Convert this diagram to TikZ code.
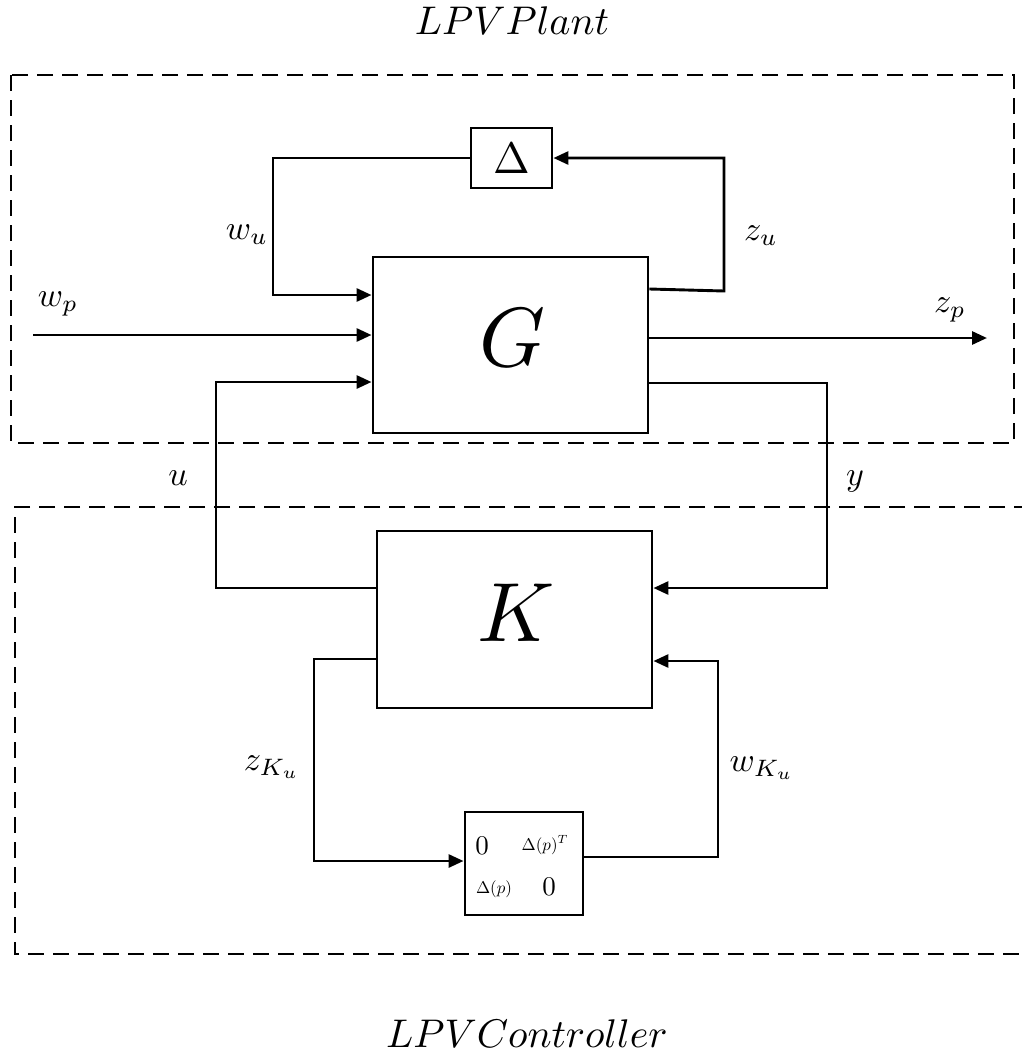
\documentclass[tikz,border=0pt]{standalone}
\usetikzlibrary{arrows.meta,calc}
\begin{document}
\begin{tikzpicture}[x=1pt,y=-1pt,
  blk/.style={draw,line width=2.9pt,inner sep=0pt},
  con/.style={line width=2.9pt},
  arr/.style={con,-{Triangle[length=15pt,width=13pt]}},
  dbox/.style={line width=2.9pt,dash pattern=on 16pt off 9pt},
  lbl/.style={scale=3.4,inner sep=0pt},
  ttl/.style={scale=4.0,inner sep=0pt},
  big/.style={scale=8.4,inner sep=0pt}]
\useasboundingbox (0,0) rectangle (1022,1061);
% dashed enclosures
\draw[dbox] (11,75) rectangle (1014,443);
\draw[dbox] (1030,507) -- (15,507) -- (15,954) -- (1030,954);
% blocks
\node[blk,minimum width=275pt,minimum height=176pt] (G) at (510.5,345) {};
\node[big] (Gl) at (513,338) {$G$};
\node[blk,minimum width=81pt,minimum height=60pt] (D) at (511.5,158) {};
\node[scale=4.4,inner sep=0pt] (Dl) at (D.center) {$\Delta$};
\node[blk,minimum width=275pt,minimum height=177pt] (K) at (514.5,619.5) {};
\node[big] (Kl) at (516,613) {$K$};
\node[blk,minimum width=118pt,minimum height=103pt] (M) at (524,863.5) {};
\node[scale=2.7,inner sep=0pt] (m11) at (482,846) {$0$};
\node[scale=1.7,inner sep=0pt] (m12) at (545,845) {$\Delta(p)^T$};
\node[scale=1.7,inner sep=0pt] (m21) at (494,889) {$\Delta(p)$};
\node[scale=2.7,inner sep=0pt] (m22) at (549,887) {$0$};
% free ends
\coordinate (wpin) at (33,335);
\coordinate (zpout) at (987,338);
% connectors
\draw[arr] (D.west) -- (273,158) -- (273,295) -- (G.west |- 0,295);
\draw[arr] (wpin) -- (G.west |- wpin);
\draw[arr] (K.west |- 0,588) -- (216,588) -- (216,382) -- (G.west |- 0,382);
\draw[arr] (G.east |- 0,289) -- (724,291) -- (724,158) -- (D.east);
\draw[arr] (G.east |- zpout) -- (zpout);
\draw[arr] (G.east |- 0,383) -- (827,383) -- (827,588) -- (K.east |- 0,588);
\draw[arr] (K.west |- 0,659) -- (314,659) -- (314,861) -- (M.west |- 0,861);
\draw[arr] (M.east |- 0,857) -- (718,857) -- (718,661) -- (K.east |- 0,661);
% labels
\node[ttl] (t1) at (512,21) {$LPV Plant$};
\node[ttl] (t2) at (527,1034) {$LPV Controller$};
\node[lbl] (lwu) at (247,235) {$w_u$};
\node[lbl] (lzu) at (761,236) {$z_u$};
\node[lbl] (lwp) at (58,304) {$w_p$};
\node[lbl] (lzp) at (950,310) {$z_p$};
\node[lbl] (lu) at (178,478) {$u$};
\node[lbl] (ly) at (855,481) {$y$};
\node[lbl] (lzk) at (272,767) {$z_{K_u}$};
\node[lbl] (lwk) at (762,768) {$w_{K_u}$};
\end{tikzpicture}
\end{document}
